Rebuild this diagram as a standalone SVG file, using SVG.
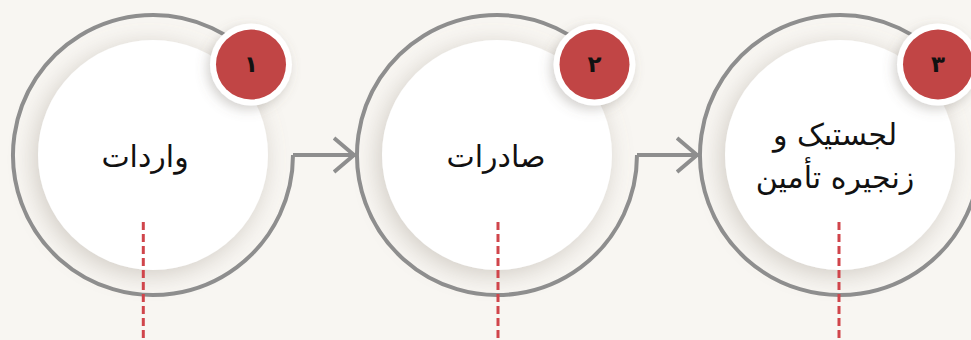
<svg xmlns="http://www.w3.org/2000/svg" width="971" height="340" viewBox="0 0 971 340">
  <defs>
    <style>
      .ring{fill:none;stroke:#8e8e8e;stroke-width:4}
      .disc{fill:#ffffff;filter:url(#sh)}
      .bw{fill:#ffffff;filter:url(#bsh)}
      .br{fill:#c14545}
      .num{font-family:"DejaVu Sans",sans-serif;font-weight:bold;font-size:23px;fill:#111;text-anchor:middle}
      .lbl{font-family:"DejaVu Sans","Noto Sans",sans-serif;font-size:30px;fill:#111;text-anchor:middle}
      .dash{stroke:#d0454b;stroke-width:3;stroke-dasharray:8 4;fill:none}
      .conn{fill:none;stroke:#8e8e8e;stroke-width:4}
    </style>
    <filter id="sh" x="-40%" y="-40%" width="180%" height="180%">
      <feGaussianBlur in="SourceAlpha" stdDeviation="12"/>
      <feOffset dx="-4" dy="5" result="b"/>
      <feFlood flood-color="#8a7f72" flood-opacity="0.35"/>
      <feComposite in2="b" operator="in"/>
      <feMerge><feMergeNode/><feMergeNode in="SourceGraphic"/></feMerge>
    </filter>
    <filter id="bsh" x="-50%" y="-50%" width="200%" height="200%">
      <feGaussianBlur in="SourceAlpha" stdDeviation="6"/>
      <feOffset dx="-3" dy="4" result="b"/>
      <feFlood flood-color="#6d655c" flood-opacity="0.3"/>
      <feComposite in2="b" operator="in"/>
      <feMerge><feMergeNode/><feMergeNode in="SourceGraphic"/></feMerge>
    </filter>
    <marker id="arr" markerUnits="userSpaceOnUse" markerWidth="26" markerHeight="40" viewBox="0 0 26 40" refX="21" refY="20" orient="auto">
      <path d="M1 3 L21 20 L1 37" fill="none" stroke="#8e8e8e" stroke-width="4"/>
    </marker>
  </defs>
  <rect width="971" height="340" fill="#f8f6f2"/>

  <g id="node1">
    <circle class="disc" cx="153" cy="155" r="115"/>
    <path class="ring" d="M260.2 65 A140 140 0 1 0 293 155"/>
    <line class="dash" x1="143.3" y1="222" x2="143.3" y2="340"/>
    <text class="lbl" x="145" y="167" direction="rtl">واردات</text>
    <circle class="bw" cx="251" cy="64.5" r="41"/>
    <circle class="br" cx="251" cy="64.5" r="35"/>
    <text class="num" x="251" y="72">۱</text>
  </g>

  <g id="node2">
    <circle class="disc" cx="497" cy="155" r="115"/>
    <path class="ring" d="M604.2 65 A140 140 0 1 0 637 155"/>
    <line class="dash" x1="498" y1="222" x2="498" y2="340"/>
    <text class="lbl" x="496" y="167" direction="rtl">صادرات</text>
    <circle class="bw" cx="594.5" cy="64.5" r="41"/>
    <circle class="br" cx="594.5" cy="64.5" r="35"/>
    <text class="num" x="594.5" y="72">۲</text>
  </g>

  <g id="node3">
    <circle class="disc" cx="840" cy="155" r="115"/>
    <path class="ring" d="M947.2 65 A140 140 0 1 0 980 155"/>
    <line class="dash" x1="839" y1="222" x2="839" y2="340"/>
    <text class="lbl" x="835" y="145" direction="rtl">لجستیک و</text>
    <text class="lbl" x="835" y="188" direction="rtl">زنجیره تأمین</text>
    <circle class="bw" cx="938" cy="64.5" r="41"/>
    <circle class="br" cx="938" cy="64.5" r="35"/>
    <text class="num" x="938" y="72">۳</text>
  </g>

  <g id="connectors">
    <path class="conn" d="M293 155 H354" marker-end="url(#arr)"/>
    <path class="conn" d="M637 155 H697" marker-end="url(#arr)"/>
  </g>
</svg>
